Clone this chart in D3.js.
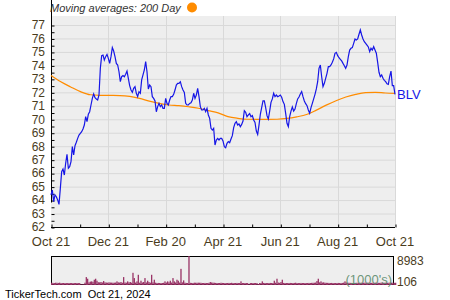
<!DOCTYPE html>
<html>
<head>
<meta charset="utf-8">
<script src="https://cdn.jsdelivr.net/npm/d3@7"></script>
<style>
  body { margin: 0; background: #fff; }
  svg { display: block; font-family: "Liberation Sans", Arial, sans-serif; }
</style>
</head>
<body>
<svg id="chart" width="450" height="300"></svg>
<script>
// BLV, one year of closes, 200 day moving average and volume
const ticker = "BLV"
const startDate = new Date(2023, 9, 21)
const endDate = new Date(2024, 9, 21)
const tickDates = [new Date(2023, 9, 21), new Date(2023, 11, 21), new Date(2024, 1, 20), new Date(2024, 3, 21),
                   new Date(2024, 5, 21), new Date(2024, 7, 21), new Date(2024, 9, 21)]
const tickLabels = ["Oct 21", "Dec 21", "Feb 20", "Apr 21", "Jun 21", "Aug 21", "Oct 21"]
const priceTicks = [62, 63, 64, 65, 66, 67, 68, 69, 70, 71, 72, 73, 74, 75, 76, 77]

const prices = [
  64.38, 64.75, 63.88, 64.38, 64.25, 64.01, 63.68, 64.87, 66.11, 66.31,
  65.86, 66.73, 67.40, 66.36, 66.48, 66.85, 67.97, 67.35, 68.04, 68.29,
  68.58, 68.83, 68.96, 69.08, 69.28, 69.57, 70.19, 69.82, 70.37, 70.56,
  71.06, 71.55, 71.88, 71.60, 71.51, 71.43, 71.80, 73.78, 74.72, 74.77,
  74.40, 74.65, 74.82, 74.52, 74.15, 74.65, 75.32, 75.07, 74.65, 74.15,
  74.03, 73.53, 72.79, 73.16, 73.24, 73.16, 73.34, 73.58, 73.04, 72.50,
  72.17, 72.00, 72.30,
  72.42, 71.93, 71.68, 72.05, 71.93, 72.92, 73.29, 73.66, 74.28, 73.53,
  72.25, 72.54, 72.42, 71.68, 71.55, 71.36, 70.56, 70.94, 71.18, 70.94,
  71.06, 70.81, 70.81, 71.55, 71.18, 71.06, 71.43, 71.68, 71.68, 71.85,
  72.17, 72.54, 72.67, 72.67, 72.79, 72.42, 72.17, 72.00, 71.18, 71.06,
  71.06, 71.18, 71.23, 71.43, 71.93, 71.55, 71.80, 72.30, 71.68, 70.94,
  70.69, 70.69, 70.81, 70.56, 70.81, 70.32, 70.07, 69.33, 69.20, 69.33,
  68.09, 68.46, 68.58, 68.46,
  68.58, 68.58, 68.39, 67.97, 67.89, 68.21, 68.34, 68.26, 68.54, 68.78,
  69.38, 69.70, 69.82, 69.57, 69.65, 69.45, 69.62, 69.87, 70.64, 70.52,
  70.19, 70.32, 70.42, 70.19, 70.27, 69.95, 69.77, 69.13, 68.88, 69.57,
  70.37, 70.86, 71.36, 71.36, 70.86, 70.27, 70.02, 70.61, 71.26, 71.51,
  71.93, 71.68, 71.80, 71.68, 71.73, 71.80, 71.63, 71.31, 71.11, 70.44,
  69.70, 69.45, 70.19, 70.61, 70.91, 70.61, 70.76, 71.16, 71.51, 71.65,
  71.88, 72.05, 71.68, 71.36,
  71.16, 71.01, 70.69, 70.44, 70.86, 71.18, 71.51, 71.85, 72.25, 72.79,
  73.78, 74.03, 73.16, 72.42, 72.67, 73.04, 73.41, 73.91, 73.91, 74.03,
  74.23, 74.48, 74.90, 74.97, 74.72, 74.57, 74.45, 74.33, 74.15, 73.98,
  73.78, 74.03, 74.65, 75.14, 75.27, 75.32, 75.64, 75.96, 75.89, 75.96,
  76.31, 76.63, 76.26, 75.96, 75.76, 75.64, 75.51, 75.37, 75.02, 75.27,
  75.14, 75.39, 75.14, 74.90, 74.23, 73.49, 73.16, 73.29, 73.04, 72.89,
  72.79, 72.64, 72.59, 73.16, 73.58, 72.50, 72.50, 71.85
]

const movingAvg = [
  73.25, 72.78, 72.40, 72.05, 71.82, 71.78, 71.77, 71.76, 71.70, 71.55,
  71.35, 71.18, 71.06, 71.01, 70.93, 70.82, 70.64, 70.47, 70.20, 70.07,
  70.00, 69.99, 69.99, 70.00, 70.06, 70.18, 70.35, 70.68, 71.05, 71.38,
  71.65, 71.85, 71.98, 72.00, 71.95, 71.92
]

// volume in 1000's
const volumes = [
  720, 650, 610, 700, 690, 640, 720, 610, 600, 620,
  610, 600, 590, 620, 610, 600, 590, 600, 610, 620,
  600, 590, 210, 180, 200, 720, 2453, 1943, 820, 1050,
  1120, 980, 1636, 1943, 1330, 860, 820, 921, 780, 1230,
  820, 760, 720, 820, 760, 740, 700, 720, 760, 1126,
  820, 760, 921, 700, 2453, 780, 720, 1126, 820, 921,
  720, 3779, 2147, 760, 1126, 3167, 720, 1330, 780, 921,
  2147, 780, 1330, 921, 720, 3167, 820, 1636, 720, 616,
  640, 620, 600, 620, 680, 1126, 760, 1126, 820, 1330,
  760, 2147, 1126, 780, 1636, 1330, 760, 5004, 820, 1432,
  718, 640, 620, 8983, 680, 640, 620, 720, 700, 680,
  720, 700, 690, 620, 610, 640, 620, 600, 680, 921,
  780, 720, 700, 640, 620, 610, 620, 700, 640, 620,
  610, 600, 620, 640, 610, 680, 620, 600, 620, 640,
  610, 600, 1126, 620, 600, 610, 620, 600, 240, 610,
  620, 600, 610, 620, 600, 250, 610, 620, 1126, 640,
  620, 610, 600, 620, 640, 610, 620, 1330, 700, 1943,
  760, 680, 921, 1636, 640, 610, 620, 600, 620, 640,
  610, 620, 640, 700, 620, 610, 600, 640, 620, 610,
  620, 600, 610, 640, 620, 660, 680, 700, 760, 1230,
  1943, 820, 1126, 760, 820, 700, 680, 660, 640, 620,
  640, 620, 600, 610, 620, 640, 620, 610, 640, 720,
  1126, 760, 700, 680, 660, 640, 620, 640, 660, 700,
  680, 660, 700, 680, 720, 700, 680, 720, 700, 680,
  660, 700, 680, 720, 700, 680, 660, 700, 720, 680,
  700, 720, 680, 700, 760, 720, 700, 680, 700
]
const volumeMax = 8983
const volumeMin = 106

const labelColor = "#4a3c1c"
const svg = d3.select("#chart")

const x = d3.scaleTime().domain([startDate, endDate]).range([51, 395])
const y = d3.scaleLinear().domain([62, 77]).range([227, 25])

// spread the trading days evenly over the year
const dayToDate = d3.scaleLinear().domain([0, prices.length - 1]).range([startDate, endDate])
const maToDate = d3.scaleLinear().domain([0, movingAvg.length - 1]).range([startDate, endDate])

// plot background
svg.append("rect")
  .attr("x", 51).attr("y", 16)
  .attr("width", 344).attr("height", 211)
  .attr("fill", "#eeeeee")

const g = svg.append("g")

g.selectAll(".hgrid")
  .data(priceTicks)
  .enter()
  .append("line")
  .attr("x1", 51).attr("x2", 395)
  .attr("y1", d => y(d) + 0.5).attr("y2", d => y(d) + 0.5)
  .attr("stroke", "#d9d9d9")

g.selectAll(".vgrid")
  .data(tickDates.slice(1))
  .enter()
  .append("line")
  .attr("x1", d => Math.round(x(d)) + 0.5).attr("x2", d => Math.round(x(d)) + 0.5)
  .attr("y1", 16).attr("y2", 227)
  .attr("stroke", "#d9d9d9")

// y axis: ticks point inside the plot
const yAxis = d3.axisRight(y)
  .tickValues(d3.range(62, 77.01, 0.5))
  .tickSize(3)
  .tickFormat("")
const yg = g.append("g").attr("transform", "translate(51.5,0.5)").call(yAxis)
yg.select(".domain").attr("d", "M0,-11V202")

g.selectAll(".ylabel")
  .data(priceTicks)
  .enter()
  .append("text")
  .attr("x", 45)
  .attr("y", d => y(d))
  .attr("dy", "0.36em")
  .attr("text-anchor", "end")
  .attr("font-size", "12px")
  .attr("fill", labelColor)
  .text(d => d)

// x axis
const minorDates = []
for (let i = 0; i < tickDates.length - 1; i++) {
  minorDates.push(new Date((tickDates[i].getTime() + tickDates[i + 1].getTime()) / 2))
}
const xAxis = d3.axisTop(x)
  .tickValues(tickDates.concat(minorDates))
  .tickSize(3)
  .tickFormat("")
g.append("g").attr("transform", "translate(0.5,227.5)").call(xAxis)
  .select(".domain").attr("d", "M50.5,0H394.5")

g.selectAll(".xlabel")
  .data(tickDates)
  .enter()
  .append("text")
  .attr("x", d => x(d))
  .attr("y", 246)
  .attr("text-anchor", "middle")
  .attr("font-size", "13px")
  .attr("fill", labelColor)
  .text((d, i) => tickLabels[i])

// moving average
const maLine = d3.line()
  .x((d, i) => x(maToDate(i)))
  .y(d => y(d))
  .curve(d3.curveMonotoneX)
g.append("path")
  .datum(movingAvg)
  .attr("d", maLine)
  .attr("fill", "none")
  .attr("stroke", "#ff8c00")
  .attr("stroke-width", 1.2)

// price
const priceLine = d3.line()
  .x((d, i) => x(dayToDate(i)))
  .y(d => y(d))
g.append("path")
  .datum(prices)
  .attr("d", priceLine)
  .attr("fill", "none")
  .attr("stroke", "#1616e6")
  .attr("stroke-width", 1.2)

g.append("text")
  .attr("x", 397)
  .attr("y", y(prices[prices.length - 1]))
  .attr("dy", "0.36em")
  .attr("font-size", "13px")
  .attr("fill", "#1616e6")
  .text(ticker)

// legend
svg.append("text")
  .attr("x", 50).attr("y", 12)
  .attr("font-size", "11px")
  .attr("font-style", "italic")
  .attr("fill", "#333333")
  .text("Moving averages: 200 Day")
svg.append("circle")
  .attr("cx", 192).attr("cy", 7.5).attr("r", 5)
  .attr("fill", "#ff8c00")

// volume panel
const vy = d3.scaleLinear().domain([0, volumeMax]).range([285, 256])
const vg = svg.append("g")
vg.append("rect")
  .attr("x", 51.5).attr("y", 256.5)
  .attr("width", 342).attr("height", 28)
  .attr("fill", "#eeeeee")
  .attr("stroke", "#000")

vg.selectAll(".vbar")
  .data(volumes)
  .enter()
  .append("rect")
  .attr("x", (d, i) => x(dayToDate(i)))
  .attr("y", d => vy(d))
  .attr("width", 1.3)
  .attr("height", d => 285 - vy(d))
  .attr("fill", "#993366")

vg.append("text")
  .attr("x", 392).attr("y", 284)
  .attr("text-anchor", "end")
  .attr("font-size", "13px")
  .attr("fill", "#5b8a6b")
  .attr("fill-opacity", 0.9)
  .text("(1000's)")

vg.append("text")
  .attr("x", 397).attr("y", vy(volumeMax))
  .attr("dy", "0.75em")
  .attr("font-size", "12px")
  .attr("fill", labelColor)
  .text(volumeMax)
vg.append("text")
  .attr("x", 397).attr("y", vy(volumeMin) + 1)
  .attr("font-size", "12px")
  .attr("fill", labelColor)
  .text(volumeMin)

svg.append("text")
  .attr("x", 5).attr("y", 298)
  .attr("font-size", "11px")
  .attr("fill", "#000")
  .text("TickerTech.com  Oct 21, 2024")
  .attr("xml:space", "preserve")
</script>
</body>
</html>
